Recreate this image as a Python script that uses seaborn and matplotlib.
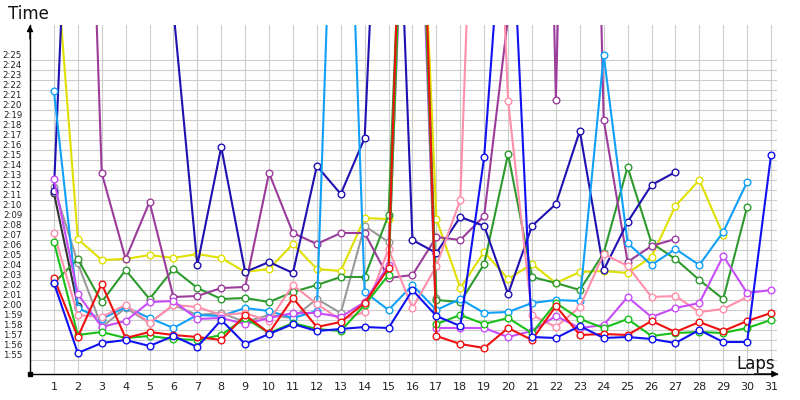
import numpy as np
import pandas as pd
import matplotlib
matplotlib.use("Agg")
import matplotlib.pyplot as plt
import seaborn as sns

N = None
laps = list(range(1, 32))

# lap times in seconds (values above ~148 run off the top of the chart)
black = [131.7, 120.4] + [N] * 29
gray = [132.3, 124.7, 118.3, 120.2, 118.7, 120.5, 119.5, 119.7, 118.8, 119.5, 119.2, 121.1,
        119.7, 128.4, 126.8, 190, 121.2] + [N] * 14
yellow = [158, 127.1, 125.0, 125.1, 125.5, 125.2, 125.6, 125.2, 123.8, 124.1, 126.6, 124.1,
          123.9, 129.2, 129.1, 185, 129.1, 122.2, 125.8, 123.1, 124.6, 122.7, 123.8, 123.9,
          123.7, 125.3, 130.4, 133.0, 127.5, N, N]
dark_green = [122.7, 125.1, 120.8, 124.0, 121.1, 124.1, 122.2, 121.1, 121.2, 120.8, 121.8, 122.5,
              123.3, 123.3, 129.5, 190, 121.0, 120.8, 124.6, 135.6, 123.3, 122.7, 122.0, 125.7,
              134.3, 126.7, 125.1, 123.0, 121.1, 130.3, N]
purple = [N, 205, 133.7, 125.1, 130.8, 121.3, 121.4, 122.2, 122.3, 133.7, 127.7, 126.6, 127.7,
          127.7, 123.2, 123.5, 127.3, 127.0, 129.4, 149.3, 250, 141.0, 240, 139.0, 124.8, 126.4,
          127.1, N, N, N, N]
navy = [131.9, 188, 190, 190, 190, 150, 124.5, 136.3, 123.8, 124.8, 123.7, 134.4, 131.6, 137.2,
        190, 127.0, 125.7, 129.3, 128.4, 121.6, 128.4, 130.6, 137.9, 124.0, 128.8, 132.5, 133.8,
        N, N, N, N]
light_blue = [141.9, 120.2, 119.1, 120.3, 119.2, 118.2, 119.5, 119.4, 120.2, 119.9, 119.2, 119.9,
              190, 121.8, 120.0, 122.5, 120.0, 121.1, 119.7, 119.8, 120.7, 121.0, 120.9, 145.5,
              126.7, 124.5, 126.1, 124.5, 127.8, 132.8, N]
pink = [127.7, 119.5, 119.3, 120.5, 118.7, 120.5, 120.3, 119.5, 119.7, 118.9, 122.5, 120.6, 119.0,
        119.8, 126.1, 120.2, 124.4, 131.0, 198, 140.9, 119.5, 118.3, 120.3, 125.6, 124.4, 121.3,
        121.4, 119.8, 120.1, 121.3, N]
violet = [133.1, 121.6, 118.3, 118.9, 120.8, 120.9, 119.1, 119.2, 118.6, 119.2, 119.7, 119.7,
          119.3, 120.8, 124.5, 185, 118.2, 118.2, 118.2, 117.3, 117.9, 119.4, 118.2, 118.5,
          121.3, 119.3, 120.2, 120.7, 125.4, 121.7, 122.0]
bright_green = [126.8, 117.5, 117.8, 117.2, 117.4, 117.1, 117.0, 117.5, 119.2, 117.7, 118.7, 118.1,
                117.9, 120.5, 123.5, 190, 118.6, 119.5, 118.6, 119.2, 117.7, 120.7, 119.1, 118.2,
                119.1, 117.4, 117.7, 117.8, 117.7, 118.2, 119.0]
red = [123.2, 117.3, 122.6, 117.2, 117.8, 117.5, 117.3, 117.0, 119.5, 117.7, 121.2, 118.3, 118.8,
       120.7, 124.2, 200, 117.4, 116.6, 116.2, 118.2, 117.0, 120.4, 117.5, 117.6, 117.5, 118.9,
       117.8, 118.8, 117.9, 118.9, 119.7]
blue = [122.7, 115.7, 116.7, 117.0, 116.4, 117.4, 116.3, 119.0, 116.6, 117.6, 118.6, 117.9, 118.1,
        118.3, 118.2, 122.0, 119.4, 118.4, 135.3, 168.0, 117.3, 117.2, 118.4, 117.2, 117.3, 117.1,
        116.7, 118.0, 116.8, 116.8, 135.5]

series = [
    (black, "#333333"),
    (gray, "#9a9a9a"),
    (yellow, "#e0e000"),
    (dark_green, "#2e9a2e"),
    (purple, "#9b3c9b"),
    (navy, "#1f10b0"),
    (light_blue, "#10a0f8"),
    (pink, "#ff8fab"),
    (violet, "#c84cf8"),
    (bright_green, "#18c018"),
    (red, "#f01010"),
    (blue, "#1010f0"),
]

sns.set_theme(style="white")
plt.rcParams["font.family"] = ["DejaVu Sans"]

fig = plt.figure(figsize=(8, 4), dpi=100)
ax = fig.add_axes([30 / 800, 26 / 400, 747 / 800, 349 / 400])

for vals, col in series:
    df = pd.DataFrame({"lap": laps,
                       "sec": [np.nan if v is None else v for v in vals]}).dropna()
    sns.lineplot(data=df, x="lap", y="sec", ax=ax, color=col, lw=1.5,
                 marker="o", markersize=4.8, markerfacecolor="white",
                 markeredgecolor=col, markeredgewidth=1.0,
                 estimator=None, sort=False, legend=False)

ax.set_xlim(0, 31.25)
ax.set_ylim(113.6, 148.5)
ax.set_xticks(laps)
ax.set_xticklabels([str(l) for l in laps])
yt = list(range(115, 146))
ax.set_yticks(yt)
ax.set_yticklabels([f"{v // 60}:{v % 60:02d}" for v in yt])
for t in ax.get_yticklabels():
    t.set_verticalalignment("bottom")
ax.set_axisbelow(True)
ax.grid(True, color="#cccccc", lw=0.8)
ax.tick_params(axis="both", length=0, colors="#222222")
ax.tick_params(axis="y", labelsize=6.2, pad=5.6)
ax.tick_params(axis="x", labelsize=8, pad=6)
ax.set_xlabel("")
ax.set_ylabel("")
for s in ["top", "right"]:
    ax.spines[s].set_visible(False)
for s in ["left", "bottom"]:
    ax.spines[s].set_color("black")
    ax.spines[s].set_linewidth(1.0)

ax.annotate("", xy=(0, 1.0), xytext=(0, 0.96), xycoords="axes fraction",
            arrowprops=dict(arrowstyle="-|>", color="black", lw=1, mutation_scale=9,
                            shrinkA=0, shrinkB=0), annotation_clip=False)
ax.annotate("", xy=(1.002, 0), xytext=(0.97, 0), xycoords="axes fraction",
            arrowprops=dict(arrowstyle="-|>", color="black", lw=1, mutation_scale=9,
                            shrinkA=0, shrinkB=0), annotation_clip=False)
ax.plot([0], [0], "s", color="black", ms=2.5, transform=ax.transAxes, clip_on=False)

fig.text(8 / 800, 1 - 14 / 400, "Time", fontsize=12, ha="left", va="center", color="#111111")
fig.text(775 / 800, 1 - 364 / 400, "Laps", fontsize=12, ha="right", va="center", color="#111111")

fig.savefig("out.png", dpi=100)
